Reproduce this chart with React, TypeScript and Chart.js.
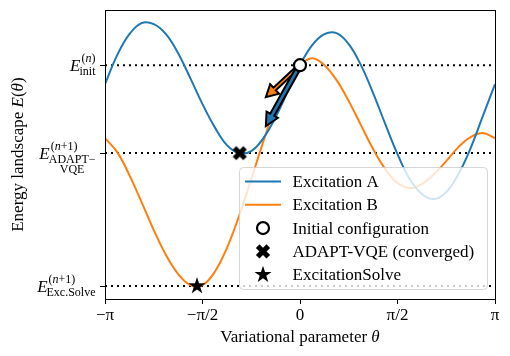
import React, { useEffect, useRef } from "react";
import { Chart, registerables } from "chart.js";

Chart.register(...registerables);

const PI = Math.PI;
const FONT = '"Liberation Serif", "DejaVu Serif", serif';

// theta grid in units of pi/16
const thetaIndex = [-16, -15, -14, -13, -12, -11, -10, -9, -8, -7, -6, -5, -4, -3, -2, -1, 0, 1, 2, 3, 4, 5, 6, 7, 8, 9, 10, 11, 12, 13, 14, 15, 16];
const excitationA = [2.15, 2.44, 2.65, 2.76, 2.75, 2.65, 2.46, 2.21, 1.95, 1.72, 1.54, 1.46, 1.48, 1.61, 1.82, 2.08, 2.34, 2.54, 2.65, 2.66, 2.55, 2.34, 2.06, 1.75, 1.45, 1.2, 1.05, 1.0, 1.07, 1.25, 1.51, 1.83, 2.15];
const excitationB = [1.61, 1.47, 1.24, 0.97, 0.69, 0.44, 0.25, 0.14, 0.14, 0.27, 0.51, 0.83, 1.2, 1.58, 1.93, 2.17, 2.34, 2.41, 2.34, 2.19, 1.98, 1.74, 1.5, 1.3, 1.16, 1.11, 1.15, 1.25, 1.38, 1.52, 1.62, 1.66, 1.61];

const levelValues = [0.13, 1.46, 2.34];
const levelSup = ["+1)", "+1)", ")"];
const levelSub = [["Exc.Solve"], ["ADAPT−", "VQE"], ["init"]];

const xTickFractions = [-1, -0.5, 0, 0.5, 1];
const xTickLabels = ["−π", "−π/2", "0", "π/2", "π"];

const initialPoint = { x: 0, y: 2.34 };
const adaptPoint = { x: -0.97, y: 1.46 };
const solvePoint = { x: -1.66, y: 0.13 };
const arrowEndB = { x: -0.55, y: 2.02 };
const arrowEndA = { x: -0.55, y: 1.73 };

const legendLabels = ["Excitation A", "Excitation B", "Initial configuration", "ADAPT-VQE (converged)", "ExcitationSolve"];

const BLUE = "#1f77b4";
const ORANGE = "#ff7f0e";

type Seg = { t: string; it?: boolean };

function segWidth(ctx: CanvasRenderingContext2D, segs: Seg[], size: number) {
  let w = 0;
  for (const s of segs) {
    ctx.font = `${s.it ? "italic " : ""}${size}px ${FONT}`;
    w += ctx.measureText(s.t).width;
  }
  return w;
}
function drawSegs(ctx: CanvasRenderingContext2D, segs: Seg[], x: number, y: number, size: number) {
  ctx.textAlign = "left";
  for (const s of segs) {
    ctx.font = `${s.it ? "italic " : ""}${size}px ${FONT}`;
    ctx.fillText(s.t, x, y);
    x += ctx.measureText(s.t).width;
  }
}

function xPath(ctx: CanvasRenderingContext2D, cx: number, cy: number, R: number) {
  const t = 0.34;
  const pts = [[t, 1], [t, t], [1, t], [1, -t], [t, -t], [t, -1], [-t, -1], [-t, -t], [-1, -t], [-1, t], [-t, t], [-t, 1]];
  const c = Math.SQRT1_2;
  ctx.beginPath();
  pts.forEach(([px, py], i) => {
    const rx = (px - py) * c * R;
    const ry = (px + py) * c * R;
    if (i === 0) ctx.moveTo(cx + rx, cy + ry);
    else ctx.lineTo(cx + rx, cy + ry);
  });
  ctx.closePath();
}
function starPath(ctx: CanvasRenderingContext2D, cx: number, cy: number, R: number) {
  const r = R * 0.382;
  ctx.beginPath();
  for (let i = 0; i < 10; i++) {
    const ang = -PI / 2 + (i * PI) / 5;
    const rr = i % 2 === 0 ? R : r;
    const px = cx + rr * Math.cos(ang);
    const py = cy + rr * Math.sin(ang);
    if (i === 0) ctx.moveTo(px, py);
    else ctx.lineTo(px, py);
  }
  ctx.closePath();
}
function makeMarker(kind: "x" | "star", R: number) {
  const c = document.createElement("canvas");
  const s = Math.ceil(R * 2 + 4);
  c.width = s;
  c.height = s;
  const ctx = c.getContext("2d")!;
  ctx.fillStyle = "#000";
  if (kind === "x") xPath(ctx, s / 2, s / 2, R);
  else starPath(ctx, s / 2, s / 2, R);
  ctx.fill();
  return c;
}

function drawArrow(ctx: CanvasRenderingContext2D, x0: number, y0: number, x1: number, y1: number, w: number, hw: number, hl: number, fill: string) {
  const dx = x1 - x0, dy = y1 - y0;
  const L = Math.hypot(dx, dy);
  const ux = dx / L, uy = dy / L;
  const nx = -uy, ny = ux;
  const bx = x1 - ux * hl, by = y1 - uy * hl;
  ctx.beginPath();
  ctx.moveTo(x0 + (nx * w) / 2, y0 + (ny * w) / 2);
  ctx.lineTo(bx + (nx * w) / 2, by + (ny * w) / 2);
  ctx.lineTo(bx + (nx * hw) / 2, by + (ny * hw) / 2);
  ctx.lineTo(x1, y1);
  ctx.lineTo(bx - (nx * hw) / 2, by - (ny * hw) / 2);
  ctx.lineTo(bx - (nx * w) / 2, by - (ny * w) / 2);
  ctx.lineTo(x0 - (nx * w) / 2, y0 - (ny * w) / 2);
  ctx.closePath();
  ctx.fillStyle = fill;
  ctx.fill();
  ctx.lineWidth = 2;
  ctx.lineJoin = "miter";
  ctx.strokeStyle = "#000";
  ctx.stroke();
}

export default function App() {
  const ref = useRef<HTMLCanvasElement>(null);
  useEffect(() => {
    const canvas = ref.current!;
    const xMarker = makeMarker("x", 7.5);
    const starMarker = makeMarker("star", 9);

    const CIRCLE_IDX = 7;

    const customPlugin = {
      id: "custom",
      beforeDatasetDraw(chart: any, args: any) {
        if (args.index !== CIRCLE_IDX) return;
        const ctx = chart.ctx as CanvasRenderingContext2D;
        const xs = chart.scales.x, ys = chart.scales.y;
        const x0 = xs.getPixelForValue(initialPoint.x), y0 = ys.getPixelForValue(initialPoint.y);
        ctx.save();
        drawArrow(ctx, x0, y0, xs.getPixelForValue(arrowEndB.x), ys.getPixelForValue(arrowEndB.y), 3.4, 13, 12, ORANGE);
        drawArrow(ctx, x0, y0, xs.getPixelForValue(arrowEndA.x), ys.getPixelForValue(arrowEndA.y), 4.6, 13, 13, BLUE);
        ctx.restore();
      },
      afterDatasetsDraw(chart: any) {
        const ctx = chart.ctx as CanvasRenderingContext2D;
        const a = chart.chartArea;
        ctx.save();
        ctx.strokeStyle = "#000";
        ctx.lineWidth = 1;
        ctx.strokeRect(Math.round(a.left) + 0.5, Math.round(a.top) + 0.5, Math.round(a.right - a.left), Math.round(a.bottom - a.top));
        const right = a.right - 8, bottom = a.bottom - 10;
        const w = 248, h = 122;
        const lx = right - w, ly = bottom - h;
        ctx.beginPath();
        (ctx as any).roundRect(lx + 0.5, ly + 0.5, w, h, 4);
        ctx.fillStyle = "rgba(255,255,255,0.8)";
        ctx.fill();
        ctx.strokeStyle = "rgba(204,204,204,0.8)";
        ctx.lineWidth = 1;
        ctx.stroke();
        const rowY = (i: number) => ly + 14.5 + i * 23.3;
        const hx0 = lx + 6, hx1 = lx + 42, hc = (hx0 + hx1) / 2;
        ctx.lineWidth = 2;
        ctx.strokeStyle = BLUE;
        ctx.beginPath(); ctx.moveTo(hx0, rowY(0)); ctx.lineTo(hx1, rowY(0)); ctx.stroke();
        ctx.strokeStyle = ORANGE;
        ctx.beginPath(); ctx.moveTo(hx0, rowY(1)); ctx.lineTo(hx1, rowY(1)); ctx.stroke();
        ctx.beginPath(); ctx.arc(hc, rowY(2), 6, 0, 2 * PI);
        ctx.fillStyle = "#fff"; ctx.fill(); ctx.strokeStyle = "#000"; ctx.lineWidth = 2.2; ctx.stroke();
        ctx.fillStyle = "#000";
        xPath(ctx, hc, rowY(3), 7.5); ctx.fill();
        starPath(ctx, hc, rowY(4), 9); ctx.fill();
        ctx.fillStyle = "#000";
        ctx.textBaseline = "alphabetic";
        ctx.font = `17px ${FONT}`;
        ctx.textAlign = "left";
        legendLabels.forEach((t, i) => ctx.fillText(t, lx + 53.5, rowY(i) + 5.5));
        ctx.restore();
      },
      afterDraw(chart: any) {
        const ctx = chart.ctx as CanvasRenderingContext2D;
        const a = chart.chartArea;
        const ys = chart.scales.y;
        ctx.save();
        ctx.fillStyle = "#000";
        ctx.textBaseline = "alphabetic";
        const right = a.left - 8.5;
        levelValues.forEach((v, i) => {
          const ty = ys.getPixelForValue(v);
          const E: Seg[] = [{ t: "E", it: true }];
          const sup: Seg[] = [{ t: "(" }, { t: "n", it: true }, { t: levelSup[i] }];
          const wE = segWidth(ctx, E, 17);
          const wSup = segWidth(ctx, sup, 12);
          const subs = levelSub[i].map((s) => [{ t: s }] as Seg[]);
          const wSubs = subs.map((s) => segWidth(ctx, s, 12));
          const wSub = Math.max(...wSubs);
          const scriptW = Math.max(wSup + 1, wSub);
          const x0 = right - wE - scriptW;
          drawSegs(ctx, E, x0, ty + 6, 17);
          drawSegs(ctx, sup, x0 + wE + 1, ty - 3.5, 12);
          subs.forEach((s, j) => {
            const off = subs.length > 1 ? (wSub - wSubs[j]) / 2 : 0;
            drawSegs(ctx, s, x0 + wE - 1 + off, ty + 9.5 + j * 10, 12);
          });
        });
        const yT: Seg[] = [{ t: "Energy landscape " }, { t: "E", it: true }, { t: "(" }, { t: "θ", it: true }, { t: ")" }];
        const wy = segWidth(ctx, yT, 17);
        ctx.translate(23, (a.top + a.bottom) / 2);
        ctx.rotate(-PI / 2);
        drawSegs(ctx, yT, -wy / 2, 0, 17);
        ctx.setTransform(1, 0, 0, 1, 0, 0);
        const xT: Seg[] = [{ t: "Variational parameter " }, { t: "θ", it: true }];
        const wx = segWidth(ctx, xT, 17);
        drawSegs(ctx, xT, (a.left + a.right) / 2 - wx / 2, 342, 17);
        ctx.restore();
      },
    };

    const curve = (vals: number[]) => thetaIndex.map((k, i) => ({ x: (k * PI) / 16, y: vals[i] }));
    const level = (v: number) => [{ x: -PI, y: v }, { x: PI, y: v }];

    const chart = new Chart(canvas, {
      type: "line",
      data: {
        datasets: [
          { data: level(levelValues[0]), borderColor: "#000", borderWidth: 2, borderDash: [2, 4], pointRadius: 0, order: 20 } as any,
          { data: level(levelValues[1]), borderColor: "#000", borderWidth: 2, borderDash: [2, 4], pointRadius: 0, order: 20 },
          { data: level(levelValues[2]), borderColor: "#000", borderWidth: 2, borderDash: [2, 4], pointRadius: 0, order: 20 },
          { label: legendLabels[0], data: curve(excitationA), borderColor: BLUE, borderWidth: 2, pointRadius: 0, tension: 0.4, order: 10 },
          { label: legendLabels[1], data: curve(excitationB), borderColor: ORANGE, borderWidth: 2, pointRadius: 0, tension: 0.4, order: 11 },
          { label: legendLabels[4], data: [solvePoint], showLine: false, pointStyle: starMarker as any, pointRadius: 9, order: 5 },
          { label: legendLabels[3], data: [adaptPoint], showLine: false, pointStyle: xMarker as any, pointRadius: 8, order: 4 },
          { label: legendLabels[2], data: [initialPoint], showLine: false, pointStyle: "circle", pointRadius: 6, pointBackgroundColor: "#fff", pointBorderColor: "#000", pointBorderWidth: 2.2, order: 1 },
        ],
      },
      options: {
        animation: false,
        responsive: false,
        maintainAspectRatio: false,
        events: [],
        layout: { padding: { left: 0, right: 15, top: 10, bottom: 0 } },
        plugins: { legend: { display: false }, tooltip: { enabled: false } },
        scales: {
          x: {
            type: "linear",
            min: -PI,
            max: PI,
            afterBuildTicks: (s: any) => { s.ticks = xTickFractions.map((f) => ({ value: f * PI })); },
            afterFit: (s: any) => { s.height = 57; },
            grid: { display: true, drawOnChartArea: false, drawTicks: true, tickLength: 5, color: "#000", lineWidth: 1 },
            border: { display: true, color: "#000", width: 1 },
            ticks: { color: "#000", font: { family: FONT, size: 17 }, padding: 1, maxRotation: 0, autoSkip: false, callback: (_v: any, i: number) => xTickLabels[i] },
          },
          y: {
            type: "linear",
            min: 0,
            max: 2.89,
            afterBuildTicks: (s: any) => { s.ticks = levelValues.map((v) => ({ value: v })); },
            afterFit: (s: any) => { s.width = 105; },
            grid: { display: true, drawOnChartArea: false, drawTicks: true, tickLength: 5, color: "#000", lineWidth: 1 },
            border: { display: true, color: "#000", width: 1 },
            ticks: { color: "#000", callback: () => "" },
          },
        },
      },
      plugins: [customPlugin],
    } as any);
    return () => chart.destroy();
  }, []);
  return (
    <div style={{ position: "absolute", left: 0, top: 0, width: 510, height: 356, background: "#fff" }}>
      <canvas ref={ref} width={510} height={356} style={{ display: "block", width: 510, height: 356 }} />
    </div>
  );
}
